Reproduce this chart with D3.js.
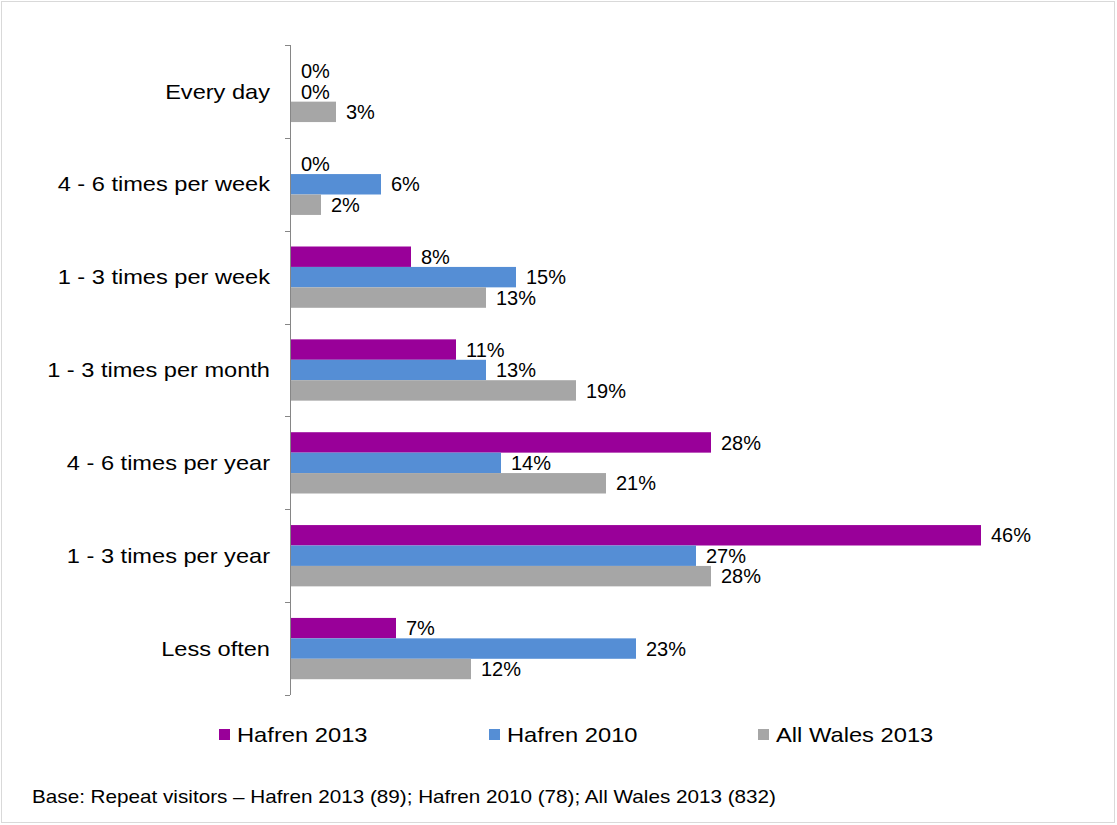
<!DOCTYPE html>
<html>
<head>
<meta charset="utf-8">
<script src="https://cdn.jsdelivr.net/npm/d3@7"></script>
<style>
  body { margin: 0; background: #fff; }
  svg text { font-family: "Liberation Sans", Arial, sans-serif; fill: #000; }
</style>
</head>
<body>
<div id="chart"></div>
<script>
// data
var categories = ["Every day", "4 - 6 times per week", "1 - 3 times per week",
                  "1 - 3 times per month", "4 - 6 times per year", "1 - 3 times per year", "Less often"];
var seriesNames = ["Hafren 2013", "Hafren 2010", "All Wales 2013"];
var hafren2013 = [0, 0, 8, 11, 28, 46, 7];
var hafren2010 = [0, 6, 15, 13, 14, 27, 23];
var allWales2013 = [3, 2, 13, 19, 21, 28, 12];
var colors = ["#990099", "#558ED5", "#A6A6A6"];
var footnote = "Base: Repeat visitors \u2013 Hafren 2013 (89); Hafren 2010 (78); All Wales 2013 (832)";

var w = 1117, h = 825;
var series = [hafren2013, hafren2010, allWales2013];

var svg = d3.select("#chart").append("svg")
    .attr("width", w)
    .attr("height", h);

// outer frame
svg.append("rect")
    .attr("x", 1.5).attr("y", 1.5)
    .attr("width", w - 4).attr("height", h - 4)
    .attr("fill", "none")
    .attr("stroke", "#d9d9d9");

var xScale = d3.scaleLinear().domain([0, 46]).range([291, 981]);
var yScale = d3.scaleBand().domain(categories).range([45, 695]).paddingInner(0.34).paddingOuter(0.17);
var inner = d3.scaleBand().domain(seriesNames).range([0, yScale.bandwidth()]);

// bars
seriesNames.forEach(function(name, si) {
    var g = svg.append("g");
    g.selectAll("rect")
        .data(series[si])
        .enter()
        .append("rect")
        .attr("x", xScale(0))
        .attr("y", function(d, i) { return yScale(categories[i]) + inner(name); })
        .attr("width", function(d) { return xScale(d) - xScale(0); })
        .attr("height", inner.bandwidth())
        .attr("fill", colors[si]);
    g.selectAll("text")
        .data(series[si])
        .enter()
        .append("text")
        .attr("x", function(d) { return xScale(d) + 10; })
        .attr("y", function(d, i) { return yScale(categories[i]) + inner(name) + inner.bandwidth() / 2; })
        .attr("dy", "0.36em")
        .style("font-size", "20px")
        .text(function(d) { return d + "%"; });
});

// y axis line + ticks at band edges
var axisG = svg.append("g").attr("stroke", "#868686").attr("stroke-width", 1);
axisG.append("line")
    .attr("x1", 290.5).attr("x2", 290.5)
    .attr("y1", 45).attr("y2", 695);
var edges = categories.map(function(c) { return yScale(c) - yScale.step() * 0.17; });
edges.push(695);
edges.forEach(function(y) {
    axisG.append("line")
        .attr("x1", 285).attr("x2", 290)
        .attr("y1", Math.round(y) + 0.5).attr("y2", Math.round(y) + 0.5);
});

// category labels (reference text is a bit wider than Arial, so stretch it)
svg.selectAll(".cat")
    .data(categories)
    .enter()
    .append("text")
    .attr("class", "cat")
    .attr("transform", function(d) {
        return "translate(270," + (yScale(d) + yScale.bandwidth() / 2) + ") scale(1.18,1)";
    })
    .attr("dy", "0.36em")
    .attr("text-anchor", "end")
    .style("font-size", "20px")
    .text(function(d) { return d; });

// legend
var legendX = [219, 489, 758];
seriesNames.forEach(function(name, i) {
    svg.append("rect")
        .attr("x", legendX[i]).attr("y", 729)
        .attr("width", 11).attr("height", 11)
        .attr("fill", colors[i]);
    svg.append("text")
        .attr("transform", "translate(" + (legendX[i] + 18) + ",734) scale(1.13,1)")
        .attr("dy", "0.36em")
        .style("font-size", "21px")
        .text(name);
});

// footnote
svg.append("text")
    .attr("transform", "translate(32,803) scale(1.15,1)")
    .style("font-size", "18px")
    .text(footnote);
</script>
</body>
</html>
